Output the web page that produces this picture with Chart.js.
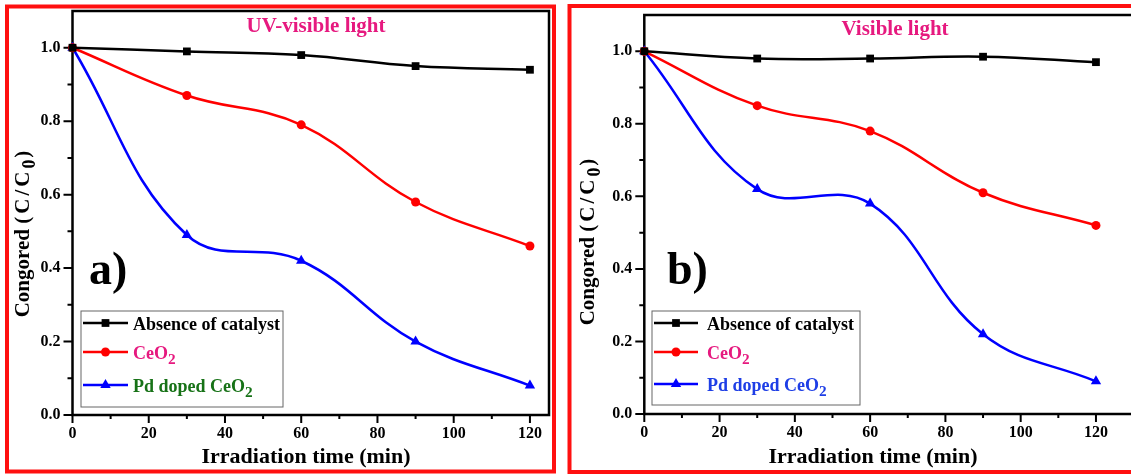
<!DOCTYPE html>
<html>
<head>
<meta charset="utf-8">
<script src="https://cdn.jsdelivr.net/npm/chart.js@4"></script>
<style>
  html, body { margin: 0; padding: 0; background: #fff; overflow: hidden; width: 1131px; height: 474px; }
  #panelA { position: absolute; left: 0; top: 0; }
  #panelB { position: absolute; left: 562px; top: 0; }
</style>
</head>
<body>
<canvas id="panelA" width="560" height="474"></canvas>
<canvas id="panelB" width="600" height="474"></canvas>
<script>
// data
const times = [0, 30, 60, 90, 120];
const uvAbsence = [1.0, 0.99, 0.98, 0.95, 0.94];
const uvCeO2 = [1.0, 0.87, 0.79, 0.58, 0.46];
const uvPdCeO2 = [1.0, 0.49, 0.42, 0.20, 0.08];
const visAbsence = [1.0, 0.98, 0.98, 0.985, 0.97];
const visCeO2 = [1.0, 0.85, 0.78, 0.61, 0.52];
const visPdCeO2 = [1.0, 0.62, 0.58, 0.22, 0.09];

const xTicks = [0, 20, 40, 60, 80, 100, 120];
const yTicks = [0.0, 0.2, 0.4, 0.6, 0.8, 1.0];
const seriesNames = ["Absence of catalyst", "CeO2", "Pd doped CeO2"];

const FONT = "'Liberation Serif', 'Times New Roman', serif";
const PINK = "#e6197f";

function richParts(text) {
	// turns "CeO2" into normal + subscript parts
	if (text.endsWith("CeO2")) return [{ t: text.slice(0, -1) }, { t: "2", sub: true }];
	return [{ t: text }];
}

// draws text parts one after another; sub parts smaller and lower, gap = extra space after each char
function drawRich(ctx, parts, x, y, size, align) {
	let w = 0;
	parts.forEach((p) => {
		ctx.font = `bold ${p.sub ? size * 0.85 : size}px ${FONT}`;
		p.chars = (p.gap ? p.t.split("") : [p.t]).map((c) => ({ c: c, w: ctx.measureText(c).width + (p.gap || 0) }));
		p.chars.forEach((ch) => { w += ch.w; });
	});
	let cx = align === "center" ? x - w / 2 : x;
	ctx.textAlign = "left";
	ctx.textBaseline = "middle";
	parts.forEach((p) => {
		ctx.font = `bold ${p.sub ? size * 0.85 : size}px ${FONT}`;
		p.chars.forEach((ch) => {
			ctx.fillText(ch.c, cx, p.sub ? y + 6 : y);
			cx += ch.w;
		});
	});
}

function drawMarker(ctx, style, x, y, r, color) {
	ctx.fillStyle = color;
	ctx.beginPath();
	if (style === "rect") {
		let s = r * Math.SQRT1_2;
		ctx.rect(x - s, y - s, 2 * s, 2 * s);
	} else if (style === "triangle") {
		ctx.moveTo(x, y - r);
		ctx.lineTo(x + r * 0.866, y + r * 0.5);
		ctx.lineTo(x - r * 0.866, y + r * 0.5);
		ctx.closePath();
	} else {
		ctx.arc(x, y, r, 0, Math.PI * 2);
	}
	ctx.fill();
}

const decor = {
	id: "decor",
	beforeDraw(chart) {
		const ctx = chart.ctx;
		ctx.save();
		ctx.fillStyle = "#fff";
		ctx.fillRect(0, 0, chart.width, chart.height);
		ctx.restore();
	},
	beforeDatasetsDraw(chart, args, o) {
		const ctx = chart.ctx;
		const { left, top, right, bottom } = chart.chartArea;
		const xs = chart.scales.x;
		const ys = chart.scales.y;
		ctx.save();
		ctx.strokeStyle = "#000";
		ctx.lineWidth = 2.5;
		ctx.strokeRect(left, top, right - left, bottom - top);
		ctx.lineWidth = 2;
		ctx.beginPath();
		for (let k = 0; k * 10 <= xs.max; k++) {
			let px = xs.getPixelForValue(k * 10);
			let len = k % 2 === 0 ? 8 : 4;
			ctx.moveTo(px, bottom);
			ctx.lineTo(px, bottom + len);
		}
		for (let k = 0; k <= 10; k++) {
			let py = ys.getPixelForValue(k / 10);
			let len = k % 2 === 0 ? 9 : 5;
			ctx.moveTo(left, py);
			ctx.lineTo(left - len, py);
		}
		ctx.stroke();
		ctx.restore();
	},
	afterDraw(chart, args, o) {
		const ctx = chart.ctx;
		ctx.save();
		// red panel border
		ctx.strokeStyle = "#ff1010";
		ctx.lineWidth = 4;
		ctx.strokeRect(o.border[0], o.border[1], o.border[2], o.border[3]);

		// panel title
		ctx.fillStyle = PINK;
		ctx.font = `bold 21px ${FONT}`;
		ctx.textAlign = "center";
		ctx.textBaseline = "alphabetic";
		ctx.fillText(o.title, o.titleX, o.titleY);

		// panel letter
		ctx.fillStyle = "#000";
		ctx.font = `bold 46px ${FONT}`;
		ctx.textAlign = "left";
		ctx.fillText(o.letter, o.letterX, o.letterY);

		// x axis title
		ctx.font = `bold 22px ${FONT}`;
		ctx.textAlign = "center";
		ctx.fillText("Irradiation time (min)", o.xTitleX, 463);

		// y axis title
		ctx.save();
		ctx.translate(o.yTitleX, o.yTitleY);
		ctx.rotate(-Math.PI / 2);
		drawRich(ctx, [{ t: "Congored " }, { t: "(C/C", gap: 3 }, { t: "0", sub: true, gap: 2 }, { t: ")" }], 0, 0, 21, "center");
		ctx.restore();

		// legend
		const lg = o.legend;
		ctx.strokeStyle = "#666";
		ctx.lineWidth = 1;
		ctx.strokeRect(lg.x, lg.y, lg.w, lg.h);
		chart.data.datasets.forEach((ds, i) => {
			let ry = lg.rows[i];
			ctx.strokeStyle = ds.borderColor;
			ctx.lineWidth = 2.5;
			ctx.beginPath();
			ctx.moveTo(lg.lineX0, ry);
			ctx.lineTo(lg.lineX1, ry);
			ctx.stroke();
			drawMarker(ctx, ds.pointStyle, (lg.lineX0 + lg.lineX1) / 2, ry, ds.pointRadius, ds.borderColor);
			ctx.fillStyle = lg.colors[i];
			drawRich(ctx, richParts(seriesNames[i]), lg.textX, ry + 2, 18, "left");
		});
		ctx.restore();
	},
};

function makeDataset(values, color, style, radius) {
	return {
		data: times.map((t, i) => ({ x: t, y: values[i] })),
		borderColor: color,
		backgroundColor: color,
		borderWidth: 2.5,
		pointStyle: style,
		pointRadius: radius,
		pointBorderWidth: 0,
		tension: 0.4,
		clip: false,
	};
}

function makeChart(id, sets, xMax, pad, yWidth, xHeight, decorOpts) {
	return new Chart(document.getElementById(id), {
		type: "line",
		data: {
			datasets: [
				makeDataset(sets[0], "#000000", "rect", 5.5),
				makeDataset(sets[1], "#ff0000", "circle", 4.5),
				makeDataset(sets[2], "#0000ff", "triangle", 6),
			],
		},
		options: {
			responsive: false,
			animation: false,
			devicePixelRatio: 1,
			layout: { padding: pad },
			plugins: { legend: { display: false }, tooltip: { enabled: false }, decor: decorOpts },
			scales: {
				x: {
					type: "linear",
					min: 0,
					max: xMax,
					grid: { display: false, drawTicks: false },
					border: { display: false },
					afterFit: (s) => {
						s.height = xHeight;
						s.paddingLeft = 0;
						s.paddingRight = 0;
					},
					afterBuildTicks: (s) => { s.ticks = xTicks.map((v) => ({ value: v })); },
					ticks: {
						padding: 9,
						color: "#000",
						maxRotation: 0,
						font: { family: FONT, size: 16, weight: "bold" },
					},
				},
				y: {
					min: 0,
					max: 1.1,
					grid: { display: false, drawTicks: false },
					border: { display: false },
					afterFit: (s) => {
						s.width = yWidth;
						s.paddingTop = 0;
						s.paddingBottom = 0;
					},
					afterBuildTicks: (s) => { s.ticks = yTicks.map((v) => ({ value: v })); },
					ticks: {
						padding: 12,
						color: "#000",
						font: { family: FONT, size: 16, weight: "bold" },
						callback: (v) => v.toFixed(1),
					},
				},
			},
		},
		plugins: [decor],
	});
}

// (a) UV-visible light
makeChart("panelA", [uvAbsence, uvCeO2, uvPdCeO2], 125,
	{ top: 11, right: 11, left: 0, bottom: 0 }, 72.5, 59, {
		border: [7, 6.5, 547, 465],
		title: "UV-visible light", titleX: 316, titleY: 32,
		letter: "a)", letterX: 89, letterY: 284,
		xTitleX: 306,
		yTitleX: 24, yTitleY: 234,
		legend: {
			x: 81, y: 311, w: 202, h: 96,
			rows: [323, 352, 385],
			lineX0: 83, lineX1: 128, textX: 133,
			colors: ["#000000", PINK, "#177217"],
		},
	});

// (b) Visible light
makeChart("panelB", [visAbsence, visCeO2, visPdCeO2], 130,
	{ top: 15, right: 28.4, left: 0, bottom: 0 }, 82.3, 60, {
		border: [7.5, 6, 700, 466],
		title: "Visible light", titleX: 333, titleY: 35,
		letter: "b)", letterX: 105, letterY: 284,
		xTitleX: 311,
		yTitleX: 27, yTitleY: 242,
		legend: {
			x: 90, y: 311, w: 208, h: 94,
			rows: [323, 352, 384],
			lineX0: 92, lineX1: 136, textX: 145,
			colors: ["#000000", PINK, "#1e3ee6"],
		},
	});
</script>
</body>
</html>
